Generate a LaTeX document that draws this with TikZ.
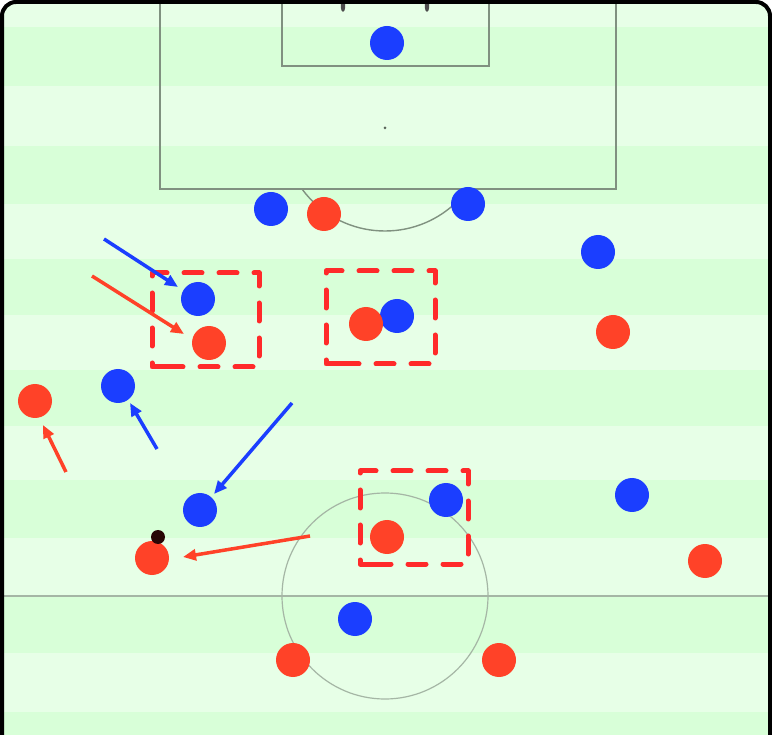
\documentclass[tikz,border=0pt]{standalone}
\usetikzlibrary{arrows.meta}
\definecolor{lightg}{RGB}{231,255,231}
\definecolor{darkg}{RGB}{216,255,216}
\definecolor{pblue}{RGB}{27,62,255}
\definecolor{pred}{RGB}{255,66,40}
\definecolor{boxred}{RGB}{255,42,42}
\definecolor{lineg}{RGB}{128,145,128}
\definecolor{circg}{RGB}{165,182,165}
\definecolor{ballc}{RGB}{40,5,5}
\begin{document}
\begin{tikzpicture}[x=1pt,y=-1pt,
  blue/.style={circle,fill=pblue,minimum size=34pt,inner sep=0pt},
  red/.style={circle,fill=pred,minimum size=34pt,inner sep=0pt},
  ball/.style={circle,fill=ballc,minimum size=14pt,inner sep=0pt},
  pline/.style={draw=lineg,line width=1.4pt},
  cline/.style={draw=circg,line width=1.2pt},
  dbox/.style={draw=boxred,line width=5pt,dash pattern=on 18pt off 17pt,line cap=round,line join=round},
  barrow/.style={draw=pblue,line width=3.5pt,-{Triangle[length=13pt,width=11pt]}},
  rarrow/.style={draw=pred,line width=3.5pt,-{Triangle[length=13pt,width=11pt]}}]
\useasboundingbox (0,0) rectangle (772,735);
\fill[white] (0,0) rectangle (772,735);
% pitch
\begin{scope}
\clip[rounded corners=14pt] (2,2) rectangle (770,770);
\fill[lightg] (0,0) rectangle (772,770);
\foreach \a/\b in {27/86,146/204,259/315,370/426,480/538,595/653,712/770}
  \fill[darkg] (0,\a) rectangle (772,\b);
% lines
\draw[pline] (160,-5) -- (160,189) -- (616,189) -- (616,-5);
\draw[pline] (282,-5) -- (282,66) -- (489,66) -- (489,-5);
\fill[lineg!70!black] (385,128) circle (1.5pt);
\begin{scope}
\clip (0,189.7) rectangle (772,300);
\draw[pline] (385,128) circle (103pt);
\end{scope}
\draw[cline] (0,596) -- (772,596);
\draw[cline] (385,596) circle (103pt);
\fill[black!70] (343,6) ellipse (2.2pt and 6pt);
\fill[black!70] (427,6) ellipse (2.2pt and 6pt);
\end{scope}
\draw[line width=4pt,rounded corners=14pt] (2,2) rectangle (770,770);
% dashed boxes
\draw[dbox] (166,367) -- (152,367) -- (152,273) -- (259,273) -- (259,367) -- cycle;
\draw[dbox] (340,364) -- (326,364) -- (326,271) -- (435,271) -- (435,364) -- cycle;
\draw[dbox] (374,564) -- (360,564) -- (360,471) -- (468,471) -- (468,564) -- cycle;
% blue players
\node[blue] (b1) at (387,43) {};
\node[blue] (b2) at (271,209) {};
\node[blue] (b3) at (468,204) {};
\node[blue] (b4) at (598,252) {};
\node[blue] (b5) at (198,299) {};
\node[blue] (b6) at (397,316) {};
\node[blue] (b7) at (118,386) {};
\node[blue] (b8) at (200,510) {};
\node[blue] (b9) at (446,500) {};
\node[blue] (b10) at (632,495) {};
\node[blue] (b11) at (355,619) {};
% red players
\node[red] (r1) at (324,214) {};
\node[red] (r2) at (209,343) {};
\node[red] (r3) at (366,324) {};
\node[red] (r4) at (613,332) {};
\node[red] (r5) at (35,401) {};
\node[red] (r6) at (387,537) {};
\node[red] (r7) at (152,558) {};
\node[red] (r8) at (705,561) {};
\node[red] (r9) at (293,660) {};
\node[red] (r10) at (499,660) {};
% ball
\node[ball] (ball) at (158,537) {};
% arrows
\coordinate (a1s) at (104,239); \coordinate (a1e) at (178,287);
\coordinate (a2s) at (92,276);  \coordinate (a2e) at (184,334);
\coordinate (a3s) at (157,449); \coordinate (a3e) at (130,403);
\coordinate (a4s) at (66,472);  \coordinate (a4e) at (43,425);
\coordinate (a5s) at (292,403); \coordinate (a5e) at (214,494);
\coordinate (a6s) at (310,536); \coordinate (a6e) at (183,557);
\draw[barrow] (a1s) -- (a1e);
\draw[rarrow] (a2s) -- (a2e);
\draw[barrow] (a3s) -- (a3e);
\draw[rarrow] (a4s) -- (a4e);
\draw[barrow] (a5s) -- (a5e);
\draw[rarrow] (a6s) -- (a6e);
\end{tikzpicture}
\end{document}
